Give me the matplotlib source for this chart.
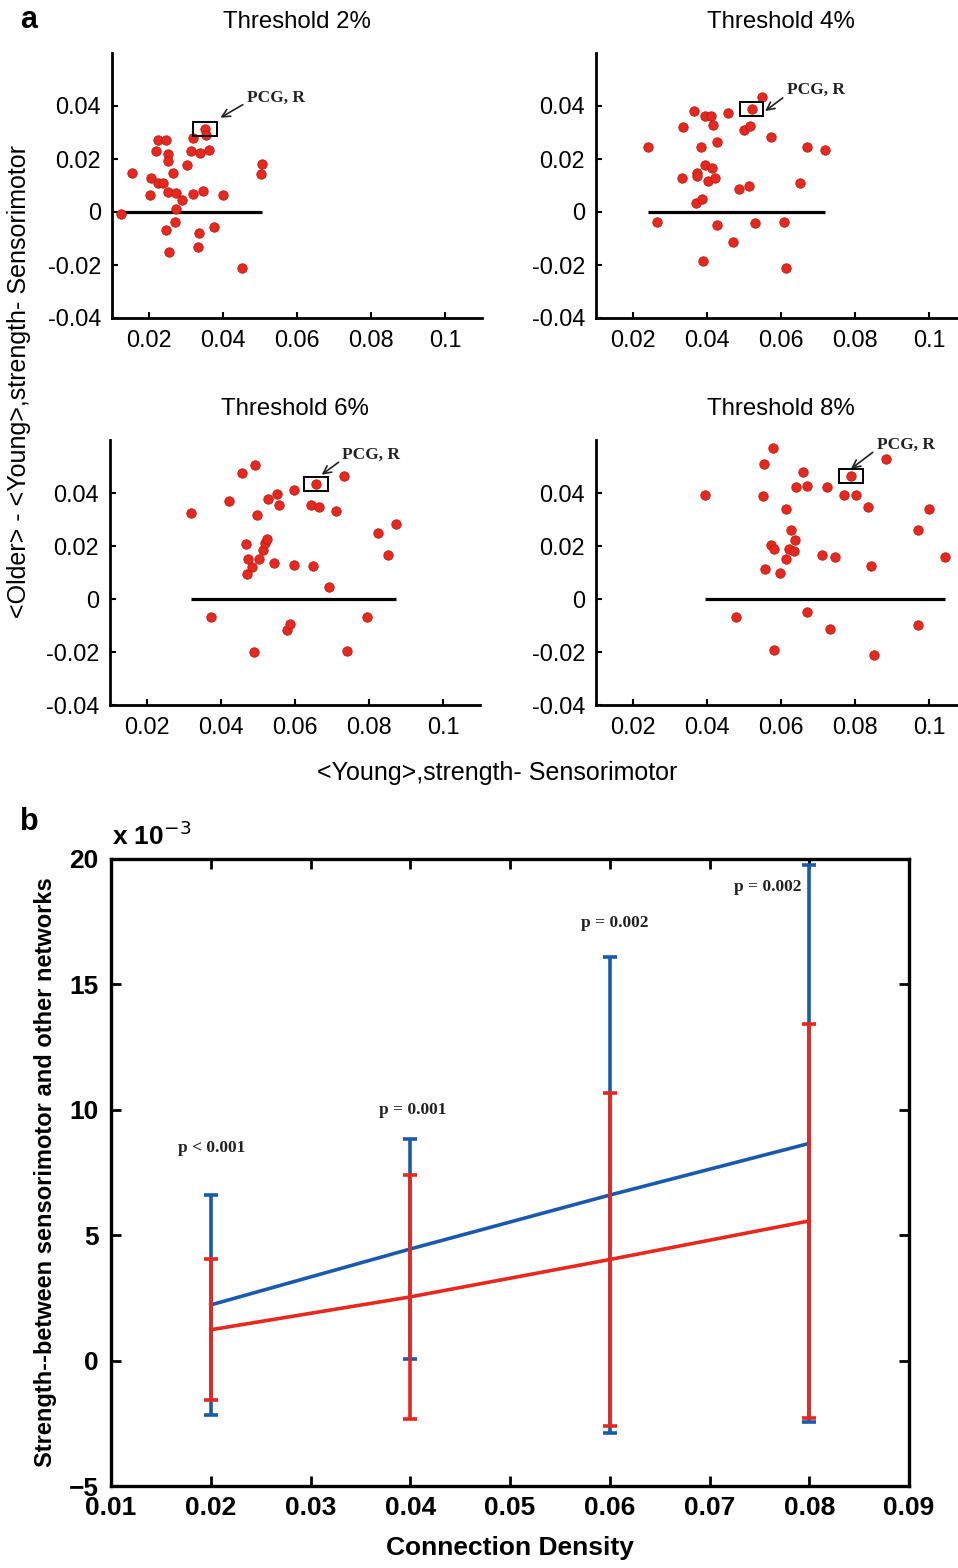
import matplotlib
matplotlib.use('Agg')
import matplotlib.pyplot as plt
from matplotlib.patches import Rectangle

plt.rcParams['font.family'] = ['Liberation Sans', 'DejaVu Sans']
plt.rcParams['axes.unicode_minus'] = False

# --- panel a: older minus young strength vs young strength, one panel per threshold ---
titles = ['Threshold 2%', 'Threshold 4%', 'Threshold 6%', 'Threshold 8%']

young_2 = [0.0124, 0.0153, 0.0205, 0.0203, 0.0223, 0.0245, 0.0218, 0.0250, 0.0250, 0.0223,
           0.0238, 0.0265, 0.0252, 0.0274, 0.0288, 0.0272, 0.0270, 0.0245, 0.0254, 0.0302,
           0.0314, 0.0319, 0.0337, 0.0361, 0.0351, 0.0355, 0.0319, 0.0347, 0.0335, 0.0332,
           0.0377, 0.0400, 0.0451, 0.0504, 0.0506]
diff_2 = [-0.0011, 0.0146, 0.0126, 0.0063, 0.0268, 0.0268, 0.0228, 0.0218, 0.0190, 0.0107,
          0.0107, 0.0145, 0.0073, 0.0069, 0.0045, 0.0010, -0.0038, -0.0069, -0.0153, 0.0174,
          0.0228, 0.0277, 0.0220, 0.0233, 0.0312, 0.0290, 0.0067, 0.0077, -0.0082, -0.0135,
          -0.0058, 0.0063, -0.0214, 0.0140, 0.0180]

young_4 = [0.0241, 0.0266, 0.0334, 0.0365, 0.0332, 0.0372, 0.0372, 0.0384, 0.0370, 0.0386,
           0.0390, 0.0395, 0.0411, 0.0417, 0.0395, 0.0413, 0.0403, 0.0422, 0.0428, 0.0428,
           0.0456, 0.0470, 0.0486, 0.0499, 0.0515, 0.0514, 0.0521, 0.0548, 0.0530, 0.0572,
           0.0609, 0.0614, 0.0651, 0.0669, 0.0719]
diff_4 = [0.0243, -0.0040, 0.0318, 0.0378, 0.0126, 0.0147, 0.0133, 0.0243, 0.0031, 0.0048,
          -0.0185, 0.0362, 0.0362, 0.0328, 0.0176, 0.0165, 0.0115, 0.0126, 0.0264, -0.0050,
          0.0372, -0.0116, 0.0086, 0.0306, 0.0321, 0.0096, 0.0388, 0.0431, -0.0044, 0.0280,
          -0.0040, -0.0214, 0.0108, 0.0245, 0.0233]

young_6 = [0.0318, 0.0372, 0.0422, 0.0457, 0.0491, 0.0467, 0.0474, 0.0484, 0.0471, 0.0489,
           0.0498, 0.0503, 0.0513, 0.0519, 0.0524, 0.0528, 0.0543, 0.0552, 0.0556, 0.0578,
           0.0586, 0.0597, 0.0597, 0.0642, 0.0649, 0.0657, 0.0666, 0.0692, 0.0710, 0.0733,
           0.0741, 0.0795, 0.0825, 0.0852, 0.0872]
diff_6 = [0.0325, -0.0068, 0.0368, 0.0475, 0.0506, 0.0209, 0.0151, 0.0119, 0.0094, -0.0201,
          0.0318, 0.0151, 0.0186, 0.0211, 0.0226, 0.0377, 0.0136, 0.0396, 0.0356, -0.0116,
          -0.0094, 0.0412, 0.0129, 0.0356, 0.0126, 0.0435, 0.0349, 0.0044, 0.0333, 0.0463,
          -0.0195, -0.0068, 0.0249, 0.0166, 0.0284]

young_8 = [0.0395, 0.0478, 0.0553, 0.0579, 0.0552, 0.0557, 0.0573, 0.0582, 0.0582, 0.0596,
           0.0614, 0.0614, 0.0622, 0.0634, 0.0626, 0.0637, 0.0641, 0.0659, 0.0669, 0.0670,
           0.0711, 0.0724, 0.0732, 0.0745, 0.0770, 0.0789, 0.0802, 0.0835, 0.0844, 0.0852,
           0.0885, 0.0970, 0.0970, 0.1000, 0.1042]
diff_8 = [0.0394, -0.0068, 0.0509, 0.0570, 0.0387, 0.0114, 0.0205, 0.0189, -0.0194, 0.0100,
          0.0340, 0.0151, 0.0190, 0.0182, 0.0261, 0.0224, 0.0423, 0.0480, 0.0425, -0.0049,
          0.0167, 0.0423, -0.0112, 0.0157, 0.0391, 0.0463, 0.0394, 0.0346, 0.0126, -0.0210,
          0.0528, 0.0261, -0.0097, 0.0340, 0.0157]

# index of the PCG, R region in each panel
pcg_idx = [24, 26, 25, 25]

a_xticks = [0.02, 0.04, 0.06, 0.08, 0.1]
a_xticklabels = ['0.02', '0.04', '0.06', '0.08', '0.1']
a_yticks = [-0.04, -0.02, 0, 0.02, 0.04]
a_yticklabels = ['-0.04', '-0.02', '0', '0.02', '0.04']

# --- panel b: strength between sensorimotor and other networks (x 10^-3) ---
density = [0.02, 0.04, 0.06, 0.08]
older_mean = [2.22, 4.45, 6.60, 8.66]
older_err = [4.40, 4.40, 9.50, 11.12]
young_mean = [1.23, 2.54, 4.03, 5.57]
young_err = [2.82, 4.88, 6.62, 7.86]
p_labels = ['p < 0.001', 'p = 0.001', 'p = 0.002', 'p = 0.002']

W, H = 958, 1568
fig = plt.figure(figsize=(W / 100, H / 100), dpi=100)


def px_axes(left, top, width, height):
    return fig.add_axes([left / W, 1 - (top + height) / H, width / W, height / H])


scatter_data = [(young_2, diff_2), (young_4, diff_4), (young_6, diff_6), (young_8, diff_8)]
# pixel boxes of the four scatter axes (left, top)
a_boxes = [(112, 52.5), (596, 52.5), (110, 440), (596, 440)]
# arrow tip offset from the PCG point (data) and label offset from the tip (points)
tip_off = [(0.0042, 0.0042), (0.0036, -0.0009), (0.0015, 0.0034), (0.0, 0.0028)]
txt_off = [(19, 14.5), (15.5, 15), (15, 14.5), (18.5, 17.5)]
box_w, box_h = 0.0063, 0.0053

red = '#e8281e'
for i, (xs, ys) in enumerate(scatter_data):
    left, top = a_boxes[i]
    ax = px_axes(left, top, 370, 265)
    ax.set_xlim(0.01, 0.11)
    ax.set_ylim(-0.04, 0.06)
    for s in ['top', 'right']:
        ax.spines[s].set_visible(False)
    for s in ['left', 'bottom']:
        ax.spines[s].set_linewidth(2)
    ax.set_xticks(a_xticks)
    ax.set_xticklabels(a_xticklabels)
    ax.set_yticks(a_yticks)
    ax.set_yticklabels(a_yticklabels)
    ax.tick_params(direction='in', length=4, width=1.5, labelsize=16.8, pad=8)
    ax.set_title(titles[i], fontsize=17.3, pad=18)

    ax.hlines(0, min(xs), max(xs), color='black', lw=2.3, zorder=2)
    ax.scatter(xs, ys, s=46, color=red, edgecolors='#b81c14', linewidths=0.6, zorder=3)

    px, py = xs[pcg_idx[i]], ys[pcg_idx[i]]
    ax.add_patch(Rectangle((px - box_w / 2, py - box_h / 2), box_w, box_h,
                           fill=False, ec='black', lw=1.4, zorder=4))
    ax.annotate('PCG, R', xy=(px + tip_off[i][0], py + tip_off[i][1]),
                xytext=txt_off[i], textcoords='offset points',
                ha='left', va='center', fontsize=12.5, fontweight='bold',
                family='Liberation Serif', color='#222222',
                arrowprops=dict(arrowstyle='->', lw=1.2, color='#222222',
                                relpos=(0, 0.2), shrinkA=1, shrinkB=0,
                                mutation_scale=14))

fig.text(20 / W, 1 - 20 / H, 'a', fontsize=22, fontweight='bold', ha='left', va='center')
fig.text(497 / W, 1 - 773 / H, '<Young>,strength- Sensorimotor', fontsize=18,
         ha='center', va='center')
fig.text(19 / W, 1 - 382 / H, '<Older> - <Young>,strength- Sensorimotor', fontsize=18,
         ha='center', va='center', rotation=90)

# --- panel b ---
axb = px_axes(111, 859, 798, 627)
blue = '#1a5aad'
axb.errorbar(density, older_mean, yerr=older_err, color=blue, lw=2.6,
             elinewidth=2.6, capsize=5, capthick=2.6, zorder=3)
axb.errorbar(density, young_mean, yerr=young_err, color=red, lw=2.6,
             elinewidth=2.6, capsize=5, capthick=2.6, zorder=4)
axb.set_xlim(0.01, 0.09)
axb.set_ylim(-5, 20)
xt = [0.01, 0.02, 0.03, 0.04, 0.05, 0.06, 0.07, 0.08, 0.09]
axb.set_xticks(xt)
axb.set_xticklabels(['%.2f' % v for v in xt])
yt = [-5, 0, 5, 10, 15, 20]
axb.set_yticks(yt)
axb.set_yticklabels([('\u2212%d' % -v) if v < 0 else '%d' % v for v in yt])
axb.tick_params(direction='in', length=7, width=2, top=True, right=True,
                labelsize=19)
axb.tick_params(axis='x', pad=7)
axb.tick_params(axis='y', pad=9)
for lab in axb.get_xticklabels() + axb.get_yticklabels():
    lab.set_fontweight('bold')
for s in axb.spines.values():
    s.set_linewidth(2.4)

p_pos = [(0.0201, 8.48), (0.0403, 10.0), (0.0605, 17.45), (0.0758, 18.9)]
for (x, y), lab in zip(p_pos, p_labels):
    axb.text(x, y, lab, ha='center', va='center', fontsize=12.5, fontweight='bold',
             family='Liberation Serif', color='#222222')

axb.set_xlabel('Connection Density', fontsize=19, fontweight='bold', labelpad=12)
axb.set_ylabel('Strength--between sensorimotor and other networks', fontsize=17,
               fontweight='bold', labelpad=8)
fig.text(112 / W, 1 - 836 / H, 'x 10$^{-3}$', fontsize=19, fontweight='bold',
         ha='left', va='center')
fig.text(20 / W, 1 - 822 / H, 'b', fontsize=22, fontweight='bold', ha='left', va='center')

fig.savefig('out.png', dpi=100)
